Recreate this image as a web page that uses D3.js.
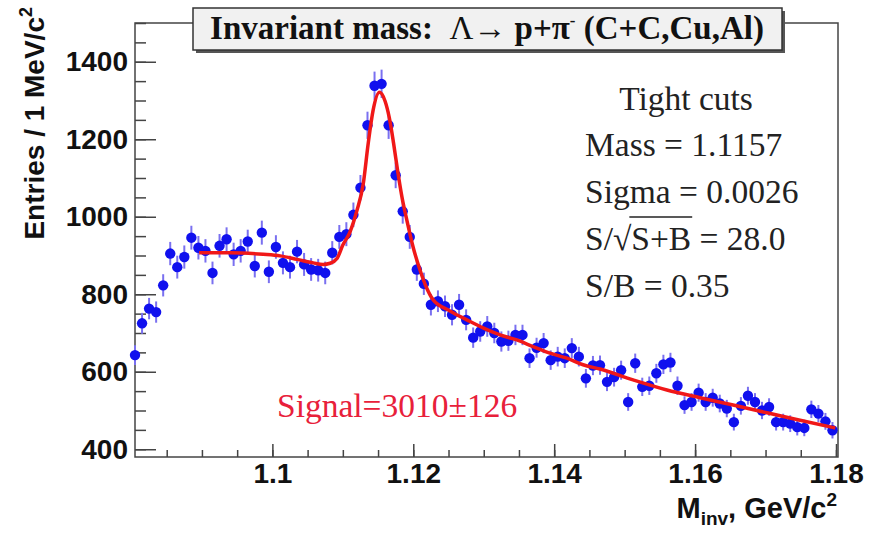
<!DOCTYPE html>
<html>
<head>
<meta charset="utf-8">
<script src="https://cdn.jsdelivr.net/npm/d3@7"></script>
<style>
  body { margin: 0; background: #fff; }
  text { white-space: pre; }
</style>
</head>
<body>
<div id="chart-area"></div>
<script>
// entries per 1 MeV bin (bins start at 1.0805 GeV)
var entries = [
  643, 725, 763, 754, 823, 905, 870, 896, 946, 920,
  912, 855, 925, 942, 903, 912, 936, 873, 959, 858,
  922, 881, 870, 910, 877, 864, 862, 855, 907, 948,
  955, 1005, 1075, 1236, 1338, 1343, 1236, 1107, 1014, 948,
  864, 827, 773, 782, 769, 747, 773, 734, 688, 704,
  717, 700, 678, 680, 695, 695, 635, 662, 674, 630,
  639, 635, 661, 639, 583, 616, 617, 574, 586, 604,
  522, 622, 561, 564, 596, 619, 624, 564, 514, 522,
  546, 522, 533, 518, 505, 470, 512, 538, 522, 500,
  509, 470, 470, 466, 457, 455, 503, 492, 472, 449
];
var binStart = 1.0805;
var binWidth = 0.001;

// fitted curve (gaussian + background)
var fitMass = [1.0896, 1.0940, 1.0987, 1.1011, 1.1035, 1.1058, 1.1072, 1.1082, 1.1092, 1.1100,
  1.1110, 1.1120, 1.1129, 1.1136, 1.1143, 1.1152, 1.1160, 1.1166, 1.1172, 1.1178,
  1.1184, 1.1191, 1.1200, 1.1210, 1.1219, 1.1228, 1.1252, 1.1276, 1.1299, 1.1323,
  1.1347, 1.1370, 1.1394, 1.1418, 1.1441, 1.1465, 1.1512, 1.1560, 1.1607, 1.1654,
  1.1702, 1.1749, 1.1799];
var fitVals = [907, 907, 903, 899, 890, 881, 877, 880, 893, 927,
  960, 1016, 1085, 1189, 1275, 1321, 1298, 1255, 1190, 1116,
  1050, 990, 920, 860, 816, 786, 757, 734, 713, 695,
  682, 665, 648, 635, 618, 607, 579, 553, 533, 514,
  494, 475, 455];

var yTicks = [400, 600, 800, 1000, 1200, 1400];
var xTicks = [1.1, 1.12, 1.14, 1.16, 1.18];
var xTickLabels = ["1.1", "1.12", "1.14", "1.16", "1.18"];
var yMinor = d3.range(400, 1501, 50);
var xMinor = d3.range(1.085, 1.1801, 0.005);

var statLines = ["Mass = 1.1157", "Sigma = 0.0026", "", "S/B = 0.35"];

var svg = d3.select("#chart-area").append("svg")
    .attr("width", 875)
    .attr("height", 534);

var frameL = 135, frameR = 838, frameT = 23, frameB = 457;

var x = d3.scaleLinear().domain([1.0805, 1.18]).range([135, 836]);
var y = d3.scaleLinear().domain([380, 1500]).range([frameB, frameT]);

var sans = "'Liberation Sans', Arial, sans-serif";
var serif = "'Liberation Serif', 'Times New Roman', serif";

// frame
svg.append("rect")
    .attr("x", frameL).attr("y", frameT)
    .attr("width", frameR - frameL).attr("height", frameB - frameT)
    .attr("fill", "none").attr("stroke", "#444").attr("stroke-width", 1.5);

// axes, ticks pointing inside
svg.append("g")
    .attr("transform", "translate(" + frameL + ",0)")
    .call(d3.axisLeft(y).tickValues(yTicks).tickSize(-21).tickPadding(7).tickFormat(d3.format("d")));
svg.append("g")
    .attr("transform", "translate(" + frameL + ",0)")
    .call(d3.axisLeft(y).tickValues(yMinor).tickSize(-11).tickFormat(""));

svg.append("g")
    .attr("transform", "translate(0," + frameB + ")")
    .call(d3.axisBottom(x).tickValues(xTicks).tickSize(-13).tickPadding(6)
      .tickFormat(function(d, i) { return xTickLabels[i]; }));
svg.append("g")
    .attr("transform", "translate(0," + frameB + ")")
    .call(d3.axisBottom(x).tickValues(xMinor).tickSize(-7).tickFormat(""));

svg.selectAll(".domain").remove();
svg.selectAll(".tick line").attr("stroke", "#444").attr("stroke-width", 1.5);
svg.selectAll(".tick text")
    .attr("font-family", sans).attr("font-weight", "bold")
    .attr("font-size", 28).attr("fill", "#111");

// axis titles
var yTitle = svg.append("text")
    .attr("transform", "translate(44,7) rotate(-90)")
    .attr("text-anchor", "end")
    .attr("font-family", sans).attr("font-weight", "bold")
    .attr("font-size", 28).attr("fill", "#111");
yTitle.append("tspan").text("Entries / 1 MeV/c");
yTitle.append("tspan").attr("font-size", 18).attr("dy", -12).text("2");

var xTitle = svg.append("text")
    .attr("x", 837).attr("y", 518)
    .attr("text-anchor", "end")
    .attr("font-family", sans).attr("font-weight", "bold")
    .attr("font-size", 29).attr("fill", "#111");
xTitle.append("tspan").text("M");
xTitle.append("tspan").attr("font-size", 19).attr("dy", 7).text("inv");
xTitle.append("tspan").attr("dy", -7).text(", GeV/c");
xTitle.append("tspan").attr("font-size", 19).attr("dy", -12).text("2");

// error bars and points
var pts = svg.append("g");
pts.selectAll("line")
    .data(entries)
    .enter().append("line")
    .attr("x1", function(d, i) { return x(binStart + i * binWidth); })
    .attr("x2", function(d, i) { return x(binStart + i * binWidth); })
    .attr("y1", function(d) { return y(d + Math.sqrt(d)); })
    .attr("y2", function(d) { return y(d - Math.sqrt(d)); })
    .attr("stroke", "#7a70f0").attr("stroke-width", 2);

pts.selectAll("circle")
    .data(entries)
    .enter().append("circle")
    .attr("cx", function(d, i) { return x(binStart + i * binWidth); })
    .attr("cy", function(d) { return y(d); })
    .attr("r", 5.2)
    .attr("fill", "#1010ee");

// fit line
var line = d3.line()
    .x(function(d, i) { return x(fitMass[i]); })
    .y(function(d) { return y(d); })
    .curve(d3.curveMonotoneX);

svg.append("path")
    .datum(fitVals)
    .attr("d", line)
    .attr("fill", "none")
    .attr("stroke", "#f01818")
    .attr("stroke-width", 3.5);

// title box
svg.append("rect")
    .attr("x", 196).attr("y", 11).attr("width", 589).attr("height", 42)
    .attr("fill", "#555");
svg.append("rect")
    .attr("x", 193).attr("y", 8).attr("width", 589).attr("height", 42)
    .attr("fill", "#f1f1f1").attr("stroke", "#333").attr("stroke-width", 1.5);

var title = svg.append("text")
    .attr("x", 487).attr("y", 39)
    .attr("text-anchor", "middle")
    .attr("font-family", serif).attr("font-weight", "bold")
    .attr("font-size", 33).attr("fill", "#111");
title.append("tspan").text("Invariant mass:  ");
title.append("tspan").attr("font-weight", "normal").text("\u039B\u2192 ");
title.append("tspan").text("p+\u03C0");
title.append("tspan").attr("font-size", 17).attr("dy", -13).text("-");
title.append("tspan").attr("dy", 13).text(" (C+C,Cu,Al)");

// fit summary
svg.append("text")
    .attr("x", 686).attr("y", 110)
    .attr("text-anchor", "middle")
    .attr("font-family", serif).attr("font-size", 33.5).attr("fill", "#222")
    .text("Tight cuts");

svg.selectAll(".stat")
    .data(statLines)
    .enter().append("text")
    .attr("class", "stat")
    .attr("x", 585)
    .attr("y", function(d, i) { return 156 + i * 47; })
    .attr("font-family", serif).attr("font-size", 33.5).attr("fill", "#222")
    .text(function(d) { return d; });

var sig = svg.append("text")
    .attr("x", 585).attr("y", 250)
    .attr("font-family", serif).attr("font-size", 33.5).attr("fill", "#222");
sig.append("tspan").text("S/\u221A");
var under = sig.append("tspan").text("S+B");
sig.append("tspan").text(" = 28.0");
var x0 = under.node().getStartPositionOfChar(0).x;
var x1 = under.node().getEndPositionOfChar(2).x;
svg.append("line")
    .attr("x1", x0 - 2).attr("x2", x1 + 1)
    .attr("y1", 217).attr("y2", 217)
    .attr("stroke", "#222").attr("stroke-width", 1.5);

svg.append("text")
    .attr("x", 277).attr("y", 417)
    .attr("font-family", serif).attr("font-size", 33.5).attr("fill", "#e8203a")
    .text("Signal=3010\u00B1126");
</script>
</body>
</html>
